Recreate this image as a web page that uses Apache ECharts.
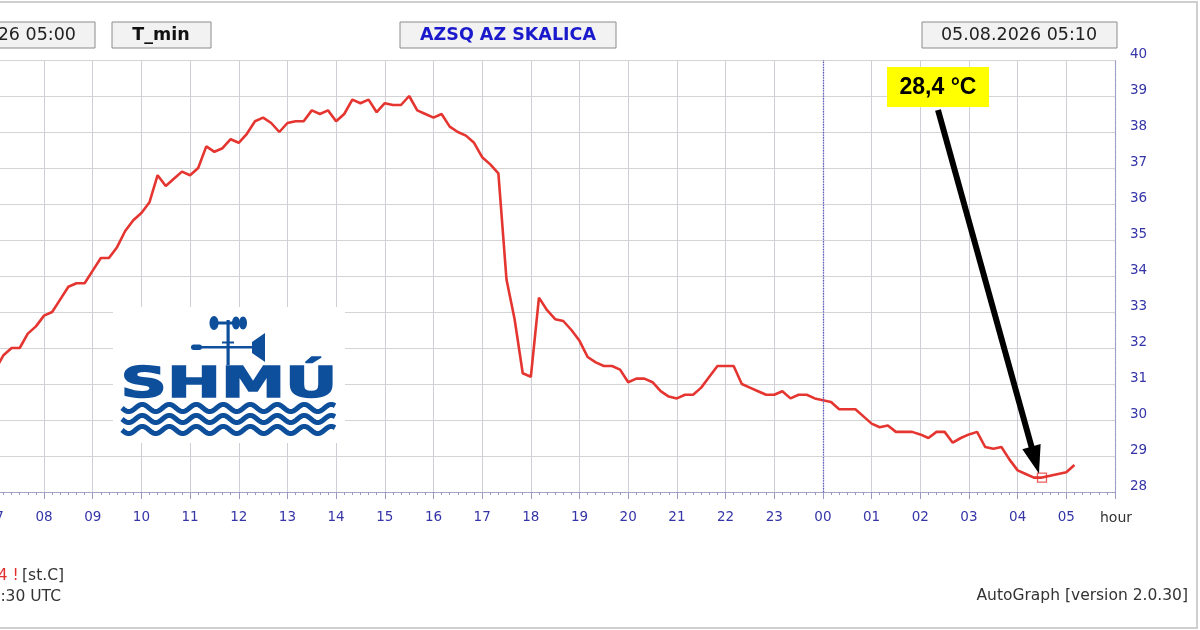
<!DOCTYPE html>
<html>
<head>
<meta charset="utf-8">
<script src="https://cdn.jsdelivr.net/npm/echarts@6/dist/echarts.min.js"></script>
<style>
  html, body { margin: 0; padding: 0; background: #fff; }
  #chart { width: 1200px; height: 630px; }
</style>
</head>
<body>
<div id="chart"></div>
<script>
// --- data: T_min every 10 minutes from 07:00 ---
const startHour = 7;
const stepMinutes = 10;
const tempValues = [
  31.4, 31.8, 32.0, 32.0, 32.4, 32.6, 32.9, 33.0, 33.35, 33.7,
  33.8, 33.8, 34.15, 34.5, 34.5, 34.8, 35.25, 35.55, 35.75, 36.05,
  36.8, 36.5, 36.7, 36.9, 36.8, 37.0, 37.6, 37.45, 37.55, 37.8,
  37.7, 37.95, 38.3, 38.4, 38.25, 38.0, 38.25, 38.3, 38.3, 38.6,
  38.5, 38.6, 38.3, 38.5, 38.9, 38.8, 38.9, 38.55, 38.8, 38.75,
  38.75, 39.0, 38.6, 38.5, 38.4, 38.5, 38.15, 38.0, 37.9, 37.7,
  37.3, 37.1, 36.85, 33.9, 32.8, 31.3, 31.2, 33.4, 33.05, 32.8,
  32.75, 32.5, 32.2, 31.75, 31.6, 31.5, 31.5, 31.4, 31.05, 31.15,
  31.15, 31.05, 30.8, 30.65, 30.6, 30.7, 30.7, 30.9, 31.2, 31.5,
  31.5, 31.5, 31.0, 30.9, 30.8, 30.7, 30.7, 30.8, 30.6, 30.7,
  30.7, 30.6, 30.55, 30.5, 30.3, 30.3, 30.3, 30.1, 29.9, 29.8,
  29.85, 29.67, 29.67, 29.67, 29.6, 29.5, 29.67, 29.67, 29.37, 29.5,
  29.6, 29.67, 29.25, 29.2, 29.25, 28.9, 28.6, 28.5, 28.4, 28.4,
  28.45, 28.5, 28.55, 28.75
];
const minPoint = [28.5, 28.4];      // 04:30 next day, 28,4 °C
const minLabel = '28,4 °C';
const midnightHour = 24;
const xRange = [5, 30];             // 05:00 .. 06:00 next day
const yRange = [28, 40];

const headerFrom = '04.08.2026 05:00';
const headerTo = '05.08.2026 05:10';
const headerVar = 'T_min';
const headerStation = 'AZSQ AZ SKALICA';

const lineData = tempValues.map((v, i) => [startHour + i * stepMinutes / 60, v]);

const blueTxt = '#3535a8';
const logoBlue = '#0e4f9c';

function box(x, y, w, h) {
  return { type: 'rect', z: 10, shape: { x: x, y: y, width: w, height: h },
    style: { fill: '#f2f2f2', stroke: '#8c8c8c', lineWidth: 1 } };
}
function txt(x, y, text, font, color, align, z) {
  return { type: 'text', z: z || 11, x: x, y: y,
    style: { text: text, font: font, fill: color, align: align || 'center', verticalAlign: 'middle' } };
}

// waves of the logo
function waveRow(y0) {
  let pts = [];
  for (let x = 122; x <= 335; x += 1.5) {
    pts.push([x, y0 + 3.6 * Math.sin((x - 122) / 27 * 2 * Math.PI)]);
  }
  return { type: 'polyline', z: 6, shape: { points: pts },
    style: { stroke: logoBlue, lineWidth: 5, fill: null } };
}

let graphics = [
  // outer frame
  { type: 'rect', z: 0, shape: { x: -10, y: 2, width: 1207, height: 626 },
    style: { fill: null, stroke: '#cfcfcf', lineWidth: 2 } },
  // header boxes
  box(-20, 22, 115, 26), txt(76, 35, headerFrom, '17.5px DejaVu Sans', '#222', 'right'),
  box(112, 22, 99, 26), txt(161, 35, headerVar, 'bold 17.5px DejaVu Sans', '#111'),
  box(400, 22, 216, 26), txt(508, 35, headerStation, 'bold 17.5px DejaVu Sans', '#1a1acc'),
  box(922, 22, 195, 26), txt(1019, 35, headerTo, '17.5px DejaVu Sans', '#222'),
  // axis unit
  txt(1116, 518, 'hour', '14px DejaVu Sans', '#333'),
  // footer
  { type: 'text', z: 11, x: 64, y: 576, style: {
      text: '{r|T_min 28,4 !} {k|[st.C]}', align: 'right', verticalAlign: 'middle',
      rich: { r: { fill: '#e03030', font: '15.5px DejaVu Sans' }, k: { fill: '#333', font: '15.5px DejaVu Sans' } } } },
  txt(61, 597, '04:30 UTC', '15.5px DejaVu Sans', '#333', 'right'),
  txt(1188, 596, 'AutoGraph [version 2.0.30]', '15.5px DejaVu Sans', '#333', 'right'),
  // logo
  { type: 'rect', z: 5, shape: { x: 113, y: 307, width: 232, height: 136 }, style: { fill: '#fff' } },
  { type: 'rect', z: 6, shape: { x: 226.5, y: 320, width: 3.2, height: 45 }, style: { fill: logoBlue } },
  { type: 'rect', z: 6, shape: { x: 212, y: 321.5, width: 33, height: 3 }, style: { fill: logoBlue } },
  { type: 'ellipse', z: 6, shape: { cx: 214, cy: 323, rx: 4.5, ry: 7 }, style: { fill: logoBlue } },
  { type: 'ellipse', z: 6, shape: { cx: 236, cy: 323, rx: 4, ry: 6.5 }, style: { fill: logoBlue } },
  { type: 'ellipse', z: 6, shape: { cx: 243, cy: 323, rx: 4, ry: 6.5 }, style: { fill: logoBlue } },
  { type: 'rect', z: 6, shape: { x: 222, y: 341.5, width: 12, height: 2 }, style: { fill: logoBlue } },
  { type: 'rect', z: 6, shape: { x: 195, y: 346, width: 60, height: 2.5 }, style: { fill: logoBlue } },
  { type: 'rect', z: 6, shape: { x: 191, y: 344.5, width: 11, height: 5.5, r: 2.7 }, style: { fill: logoBlue } },
  { type: 'polygon', z: 6, shape: { points: [[252, 342], [265, 333], [265, 362], [252, 353]] }, style: { fill: logoBlue } },
  { type: 'text', z: 6, x: 229, y: 386, scaleX: 1.5, scaleY: 1.0,
    style: { text: 'SHMÚ', font: '900 43px DejaVu Sans', fill: logoBlue, align: 'center', verticalAlign: 'middle',
      stroke: logoBlue, lineWidth: 1.5 } },
  waveRow(408), waveRow(419), waveRow(430),
  // min value label
  { type: 'rect', z: 20, shape: { x: 887, y: 67, width: 102, height: 40 }, style: { fill: '#ffff00' } },
  txt(938, 88, minLabel, 'bold 23px Liberation Sans', '#000', 'center', 22)
];

const chart = echarts.init(document.getElementById('chart'));
const option = {
  animation: false,
  backgroundColor: '#fff',
  grid: { left: -102, right: 85, top: 60, bottom: 138, containLabel: false, outerBoundsMode: 'none' },
  xAxis: {
    type: 'value', min: xRange[0], max: xRange[1], interval: 1,
    axisLine: { show: true, lineStyle: { color: '#9a9ac4', type: 'dotted', width: 1 } },
    axisTick: { show: true, length: 7, lineStyle: { color: '#9a9ac4' } },
    minorTick: { show: true, splitNumber: 6, length: 3, lineStyle: { color: '#9a9ac4' } },
    splitLine: { show: true, lineStyle: { color: '#cfcfd8', width: 1 } },
    axisLabel: {
      margin: 18, color: blueTxt, fontFamily: 'DejaVu Sans', fontSize: 13.5, showMaxLabel: false,
      formatter: v => v >= xRange[1] ? '' : String(v % 24).padStart(2, '0')
    }
  },
  yAxis: {
    type: 'value', position: 'right', min: yRange[0], max: yRange[1], interval: 1,
    axisLine: { show: true, lineStyle: { color: '#9a9ac4', type: 'dotted', width: 1.2 } },
    axisTick: { show: false },
    splitLine: { show: true, lineStyle: { color: '#d4d4d4', width: 1 } },
    axisLabel: { margin: 15, color: blueTxt, fontFamily: 'DejaVu Sans', fontSize: 13.5,
      verticalAlign: 'bottom', lineHeight: 12 }
  },
  series: [
    {
      type: 'line', data: lineData, showSymbol: false, z: 3,
      lineStyle: { color: '#e53530', width: 2.6 },
      markLine: {
        silent: true, symbol: 'none', label: { show: false },
        lineStyle: { color: '#5a5ac0', type: 'dotted', width: 1.3 },
        data: [{ xAxis: midnightHour }]
      }
    },
    {
      type: 'scatter', data: [minPoint], symbol: 'rect', symbolSize: 9, z: 4,
      itemStyle: { color: 'rgba(255,255,255,0)', borderColor: '#e53530', borderWidth: 1.3 }
    }
  ],
  graphic: graphics
};
chart.setOption(option);

// arrow from the label down to the minimum point
const p = chart.convertToPixel({ gridIndex: 0 }, minPoint);
const S = [938, 110];
const T = [p[0] - 3, p[1] - 4];
const len = Math.hypot(T[0] - S[0], T[1] - S[1]);
const d = [(T[0] - S[0]) / len, (T[1] - S[1]) / len];
const nrm = [-d[1], d[0]];
const headLen = 28, headHalf = 9.5;
const B = [T[0] - headLen * d[0], T[1] - headLen * d[1]];
graphics.push(
  { type: 'line', z: 21, shape: { x1: S[0], y1: S[1], x2: B[0] + 3 * d[0], y2: B[1] + 3 * d[1] },
    style: { stroke: '#000', lineWidth: 6 } },
  { type: 'polygon', z: 21, shape: { points: [T,
      [B[0] + headHalf * nrm[0], B[1] + headHalf * nrm[1]],
      [B[0] - headHalf * nrm[0], B[1] - headHalf * nrm[1]]] }, style: { fill: '#000' } }
);
chart.setOption({ graphic: graphics }, { replaceMerge: ['graphic'] });
</script>
</body>
</html>
